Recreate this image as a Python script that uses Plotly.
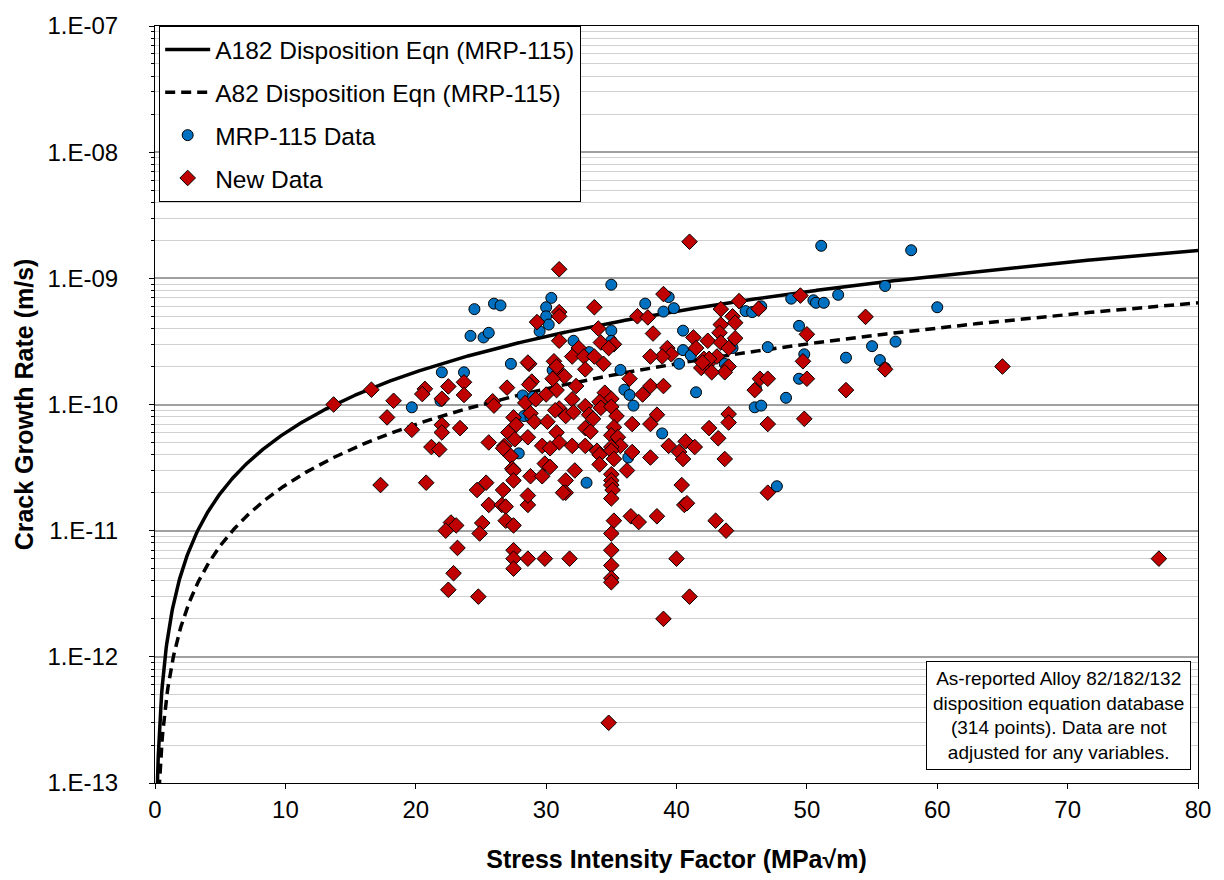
import numpy as np
import plotly.graph_objects as go

# ---------------- data ----------------
# MRP-115 disposition equations: CGR = alpha * K^beta
A182_ALPHA = 1.5e-12
A82_FACTOR = 2.6          # A82 rate = A182 rate / 2.6
BETA = 1.6

mrp_K = [24.5, 26.0, 26.5, 24.2, 25.2, 25.6, 27.3, 22.0, 23.7, 19.7, 27.9, 21.9,
         28.2, 29.0, 36.0, 36.4, 36.7, 41.5, 38.9, 36.3, 33.1, 28.3, 28.8,
         35.0, 30.4, 30.0, 30.0, 30.2, 29.5, 32.1, 35.0, 35.0, 33.3, 30.5, 35.7,
         37.6, 39.4, 39.0, 39.8, 40.5, 40.5, 40.2, 41.1,
         51.1, 48.8, 50.5, 50.7, 51.3, 52.4, 56.0, 46.5, 45.3, 45.8, 44.3, 47.0,
         43.7, 49.4, 49.8, 53.0, 55.0, 55.6, 56.8, 56.0, 49.4,
         48.4, 46.1, 46.0, 46.5, 47.7, 58.0, 60.0]
mrp_CGR = [5.7e-10, 6.3e-10, 6.1e-10, 3.5e-10, 3.4e-10, 3.7e-10, 2.1e-10, 1.8e-10, 1.8e-10, 9.5e-11, 4.1e-11, 1.07e-10,
           1.18e-10, 1.15e-10, 1.31e-10, 1.19e-10, 9.8e-11, 1.25e-10, 5.9e-11, 3.8e-11, 2.4e-11, 8.1e-11, 8.0e-11,
           8.9e-10, 7.0e-10, 5.9e-10, 5.0e-10, 4.3e-10, 3.8e-10, 3.2e-10, 3.85e-10, 3.2e-10, 2.6e-10, 1.87e-10, 1.88e-10,
           6.3e-10, 7.1e-10, 5.45e-10, 5.8e-10, 3.85e-10, 2.7e-10, 2.1e-10, 2.45e-10,
           1.81e-9, 6.9e-10, 6.7e-10, 6.4e-10, 6.4e-10, 7.4e-10, 8.7e-10, 6.0e-10, 5.5e-10, 5.4e-10, 2.8e-10, 2.85e-10,
           2.1e-10, 4.2e-10, 2.5e-10, 2.35e-10, 2.9e-10, 2.25e-10, 3.15e-10, 1.95e-10, 1.6e-10,
           1.13e-10, 1.34e-10, 9.5e-11, 9.8e-11, 2.25e-11, 1.67e-9, 5.9e-10]

new_K = [13.7, 16.6, 18.3, 17.8, 19.7, 20.7, 20.5, 22.5, 23.7, 23.7, 22.0, 22.0, 22.0, 23.4, 21.2, 21.8,
         17.3, 20.8, 27.0, 25.9, 26.0, 25.6, 26.8, 26.7, 27.5, 27.7, 27.1, 27.6, 27.3, 27.4, 27.5, 27.5,
         25.4, 24.7, 26.7, 25.6, 26.6, 26.9,
         22.7, 23.1, 22.3, 25.1, 24.9, 26.9, 27.5, 23.2, 27.5, 27.5, 27.5, 22.9, 22.5, 24.8,
         28.6, 35.2, 36.5, 37.1, 38.5, 40.6, 40.8, 35.0, 35.0, 28.6, 29.9, 31.8, 40.0, 35.0, 35.0, 35.0,
         41.0, 39.0, 34.8, 43.0, 43.8,
         28.9, 28.7, 30.8, 32.3, 30.0, 28.4, 29.2, 32.0, 34.5, 35.0, 34.1, 37.4, 38.0, 39.0, 36.4, 33.0,
         34.2, 35.0, 31.0, 30.7, 31.5, 32.1, 33.3, 33.6, 35.4, 38.5, 36.6, 38.0, 28.8, 29.1, 30.1, 33.0,
         33.4, 30.8, 35.2, 35.0, 35.5, 28.6, 31.0, 29.7, 30.3, 32.0, 33.0, 35.7, 35.0, 33.9, 35.0, 36.6,
         34.1, 35.2, 38.0, 34.1, 29.9, 30.3, 32.2, 36.2, 28.8, 29.7, 35.0, 35.0, 35.0, 31.5, 31.5, 31.3,
         35.1, 35.0, 28.6, 40.4, 39.4, 40.7, 40.2, 41.4, 40.5,
         31.0, 41.0, 31.0, 31.0, 29.3, 33.7, 31.0, 34.0, 34.2, 35.2, 34.8, 32.5, 32.0, 32.9, 33.7, 34.4,
         33.0, 30.6, 28.7, 28.6, 31.0, 30.8, 31.4, 30.5, 37.0, 37.8, 39.0, 38.2, 39.3, 39.6, 38.9, 38.0,
         41.3, 41.5, 42.1, 41.9, 42.4,
         44.8, 43.4, 49.5, 54.5, 46.3, 44.3, 44.5, 43.4, 43.3, 42.4, 43.4, 44.5, 44.0, 43.1, 42.5, 42.0,
         44.0, 43.7, 42.7, 50.0, 49.7, 56.0, 50.0, 46.4, 47.0,
         53.0, 46.0, 44.0, 44.0, 47.0, 49.8, 42.5, 43.2, 43.7, 47.0,
         65.0, 77.0]
new_CGR = [1.0e-10, 1.31e-10, 1.07e-10, 7.9e-11, 6.3e-11, 1.33e-10, 1.21e-10, 1.39e-10, 1.5e-10, 1.19e-10, 1.11e-10, 6.9e-11, 6.0e-11, 6.5e-11, 4.6e-11, 4.4e-11,
           2.3e-11, 2.4e-11, 1.36e-10, 1.06e-10, 9.8e-11, 5.0e-11, 4.7e-11, 4.5e-11, 7.9e-11, 6.9e-11, 6.0e-11, 5.3e-11, 3.9e-11, 3.1e-11, 3.0e-11, 2.5e-11,
           2.4e-11, 2.1e-11, 2.1e-11, 1.6e-11, 1.6e-11, 1.55e-11,
           1.16e-11, 1.1e-11, 1.0e-11, 1.15e-11, 9.5e-12, 1.2e-11, 1.1e-11, 7.3e-12, 7.0e-12, 6.0e-12, 5.0e-12, 4.6e-12, 3.4e-12, 3.0e-12,
           1.6e-11, 1.2e-11, 1.3e-11, 1.17e-11, 1.3e-11, 1.6e-11, 1.65e-11, 9.5e-12, 7.0e-12, 6.0e-12, 6.0e-12, 6.0e-12, 6.0e-12, 5.3e-12, 4.2e-12, 3.9e-12,
           3.0e-12, 2.0e-12, 3.0e-13, 1.2e-11, 1.0e-11,
           1.52e-10, 1.44e-10, 1.3e-10, 1.4e-10, 1.2e-10, 1.03e-10, 1.1e-10, 1.1e-10, 1.24e-10, 1.11e-10, 1.05e-10, 1.2e-10, 1.4e-10, 1.4e-10, 1.6e-10, 9.7e-11,
           9.4e-11, 9.6e-11, 9.3e-11, 9.0e-11, 8.1e-11, 8.7e-11, 8.3e-11, 7.7e-11, 8.1e-11, 8.3e-11, 7.0e-11, 7.0e-11, 8.5e-11, 7.3e-11, 7.3e-11, 6.5e-11,
           6.1e-11, 6.0e-11, 6.6e-11, 5.7e-11, 5.5e-11, 5.5e-11, 5.0e-11, 4.7e-11, 4.5e-11, 4.7e-11, 4.7e-11, 4.7e-11, 4.6e-11, 4.3e-11, 4.3e-11, 4.2e-11,
           4.0e-11, 3.7e-11, 3.8e-11, 3.35e-11, 3.4e-11, 3.2e-11, 3.0e-11, 3.0e-11, 2.7e-11, 2.7e-11, 2.8e-11, 2.5e-11, 2.3e-11, 2.5e-11, 2.0e-11, 2.0e-11,
           2.1e-11, 1.8e-11, 1.9e-11, 2.3e-11, 4.7e-11, 5.1e-11, 4.2e-11, 4.6e-11, 3.7e-11,
           1.18e-9, 1.95e-9, 5.4e-10, 5.0e-10, 4.5e-10, 5.9e-10, 3.2e-10, 4.0e-10, 3.1e-10, 3.0e-10, 2.8e-10, 2.8e-10, 2.4e-10, 2.4e-10, 2.4e-10, 2.1e-10,
           1.9e-10, 2.2e-10, 2.1e-10, 2.15e-10, 1.8e-10, 2.0e-10, 1.67e-10, 1.6e-10, 5.0e-10, 4.9e-10, 7.5e-10, 3.65e-10, 2.8e-10, 2.5e-10, 2.4e-10, 2.4e-10,
           3.4e-10, 2.8e-10, 2.3e-10, 1.95e-10, 2.1e-10,
           6.6e-10, 5.7e-10, 7.3e-10, 4.95e-10, 5.75e-10, 5.0e-10, 4.45e-10, 4.3e-10, 3.7e-10, 3.2e-10, 3.1e-10, 3.35e-10, 2.8e-10, 2.4e-10, 2.3e-10, 2.15e-10,
           2.0e-10, 1.8e-10, 1.8e-10, 3.6e-10, 2.2e-10, 1.9e-10, 1.6e-10, 1.6e-10, 1.6e-10,
           1.3e-10, 1.3e-10, 8.4e-11, 7.2e-11, 7.0e-11, 7.7e-11, 6.5e-11, 5.4e-11, 3.7e-11, 2.0e-11,
           2.0e-10, 6.0e-12]

y_tick_vals = [1e-13, 1e-12, 1e-11, 1e-10, 1e-9, 1e-8, 1e-7]
y_tick_text = ["1.E-13", "1.E-12", "1.E-11", "1.E-10", "1.E-09", "1.E-08", "1.E-07"]

legend_names = ["A182 Disposition Eqn (MRP-115)", "A82 Disposition Eqn (MRP-115)",
                "MRP-115 Data", "New Data"]
note_text = ("As-reported Alloy 82/182/132<br>disposition equation database<br>"
             "(314 points). Data are not<br>adjusted for any variables.")

# ---------------- figure ----------------
K_line = np.linspace(0.05, 80, 1600)
cgr_a182 = A182_ALPHA * K_line ** BETA
cgr_a82 = cgr_a182 / A82_FACTOR

FONT = "Liberation Sans, Arial, sans-serif"
fig = go.Figure()
fig.add_trace(go.Scatter(x=K_line, y=cgr_a182, mode="lines", name=legend_names[0],
                         legendgroup="a", line=dict(color="black", width=3.5)))
fig.add_trace(go.Scatter(x=K_line, y=cgr_a82, mode="lines", name=legend_names[1],
                         legendgroup="b", line=dict(color="black", width=3.5, dash="10px,6px")))
fig.add_trace(go.Scatter(x=mrp_K, y=mrp_CGR, mode="markers", name=legend_names[2],
                         legendgroup="c",
                         marker=dict(symbol="circle", size=11, color="#0070C0",
                                     line=dict(color="black", width=1))))
fig.add_trace(go.Scatter(x=new_K, y=new_CGR, mode="markers", name=legend_names[3],
                         legendgroup="d",
                         marker=dict(symbol="diamond", size=12, color="#C00000",
                                     line=dict(color="black", width=1))))

fig.update_layout(
    width=1224, height=880,
    margin=dict(l=155, r=26, t=20, b=97),
    paper_bgcolor="white", plot_bgcolor="white",
    font=dict(family=FONT, size=24, color="black"),
    showlegend=True,
    legend=dict(x=0.004, y=1.0, xanchor="left", yanchor="top",
                bgcolor="white", bordercolor="black", borderwidth=1,
                font=dict(size=24.5), itemwidth=45, tracegroupgap=8,
                traceorder="grouped"),
    xaxis=dict(range=[0, 80], dtick=10, tick0=0, showgrid=False, zeroline=False,
               showline=True, linecolor="black", linewidth=1, mirror=True,
               ticks="outside", ticklen=5, tickcolor="black",
               tickfont=dict(size=24),
               title=dict(text="<b>Stress Intensity Factor (MPa√m)</b>",
                          font=dict(size=25), standoff=28)),
    yaxis=dict(type="log", range=[-13, -7], tickvals=y_tick_vals, ticktext=y_tick_text,
               showgrid=True, gridcolor="#a0a0a0", gridwidth=1.5, zeroline=False,
               showline=True, linecolor="black", linewidth=1, mirror=True,
               ticks="outside", ticklen=5, tickcolor="black",
               tickfont=dict(size=24), ticklabelstandoff=26,
               minor=dict(dtick="D1", showgrid=True, gridcolor="#d0d0d0", gridwidth=1.2,
                          ticks="outside", ticklen=3, tickcolor="black"),
               title=dict(text="<b>Crack Growth Rate (m/s)</b>", font=dict(size=25),
                          standoff=6)),
)

fig.add_annotation(xref="paper", yref="paper", x=0.993, y=0.017,
                   xanchor="right", yanchor="bottom", text=note_text, showarrow=False,
                   align="center", font=dict(size=19, family=FONT),
                   bgcolor="white", bordercolor="black", borderwidth=1, borderpad=6)

fig.write_html("out.html")
